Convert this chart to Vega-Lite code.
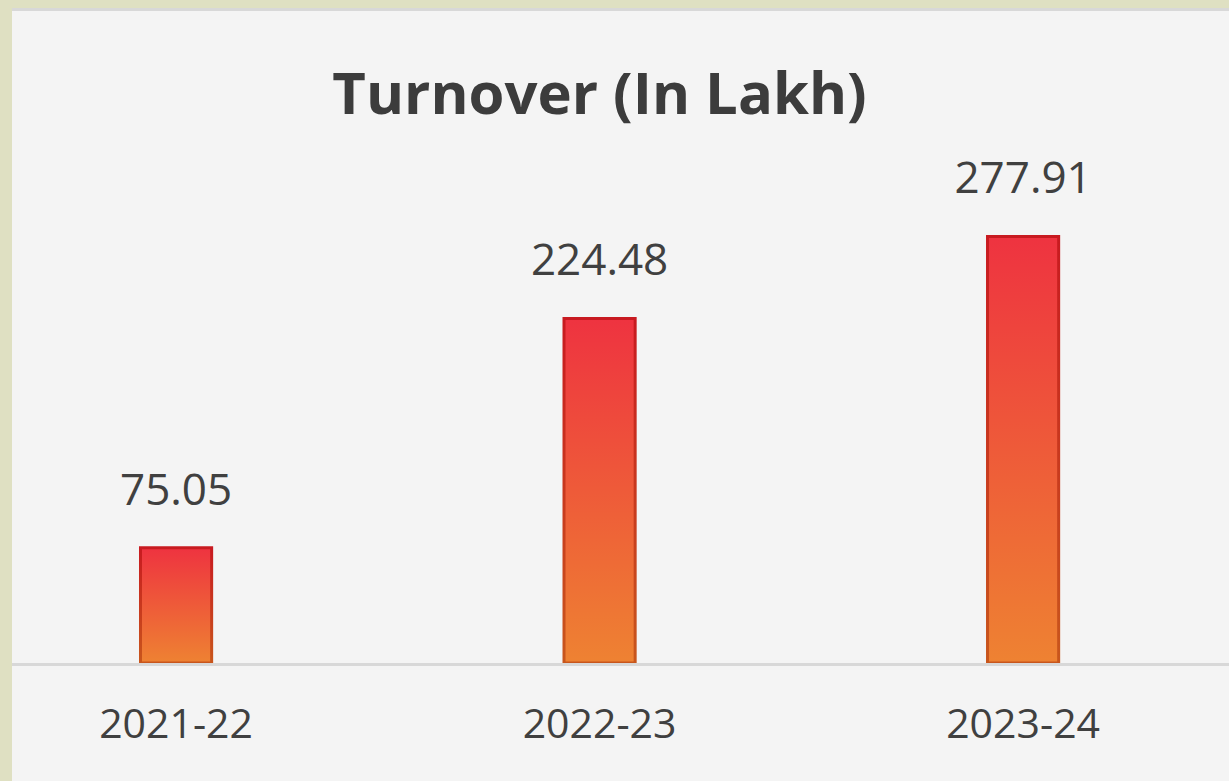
{
  "$schema": "https://vega.github.io/schema/vega-lite/v6.json",
  "width": 1217,
  "height": 773,
  "autosize": {"type": "none"},
  "padding": {"left": 12, "top": 8, "right": 0, "bottom": 0},
  "background": "#dfe0c2",
  "view": {"fill": "#f4f4f4", "stroke": null},
  "title": {
    "text": "Turnover (In Lakh)",
    "font": "Open Sans",
    "fontSize": 58,
    "fontWeight": "bold",
    "color": "#3c3c3c",
    "anchor": "middle",
    "baseline": "alphabetic",
    "offset": 0,
    "dx": -21,
    "dy": 164
  },
  "config": {
    "axisY": {"disable": true},
    "axisX": {
      "title": null,
      "domain": false,
      "ticks": false,
      "grid": false,
      "labelAngle": 0,
      "labelFont": "Open Sans",
      "labelFontSize": 41,
      "labelColor": "#404040",
      "labelBaseline": "alphabetic",
      "labelPadding": 0,
      "offset": -44
    }
  },
  "data": {
    "values": [
      {"year": "2021-22", "turnover": 75.05},
      {"year": "2022-23", "turnover": 224.48},
      {"year": "2023-24", "turnover": 277.91}
    ]
  },
  "layer": [
    {
      "mark": {"type": "rule", "stroke": "#d8d8d8", "strokeWidth": 3},
      "encoding": {"y": {"datum": 425.7, "type": "quantitative", "scale": {"domain": [-76.9, 426.7], "nice": false, "zero": false}}}
    },
    {
      "mark": {
        "type": "bar",
        "strokeWidth": 3,
        "fill": {
          "gradient": "linear", "x1": 0, "y1": 0, "x2": 0, "y2": 1,
          "stops": [{"offset": 0, "color": "#ee3340"}, {"offset": 1, "color": "#ee8232"}]
        },
        "stroke": {
          "gradient": "linear", "x1": 0, "y1": 0, "x2": 0, "y2": 1,
          "stops": [{"offset": 0, "color": "#c81a20"}, {"offset": 1, "color": "#c8561c"}]
        }
      },
      "encoding": {
        "x": {
          "field": "year",
          "type": "nominal",
          "sort": null,
          "title": null,
          "scale": {"paddingInner": 0.832, "paddingOuter": 0.3528, "align": 0.43}
        },
        "y": {
          "field": "turnover",
          "type": "quantitative",
          "title": null
        },
        "y2": {"datum": 0}
      }
    },
    {
      "mark": {"type": "rule", "stroke": "#d8d8d8", "strokeWidth": 3},
      "encoding": {"y": {"datum": -1, "type": "quantitative"}}
    },
    {
      "mark": {
        "type": "text",
        "font": "Open Sans",
        "fontSize": 44,
        "color": "#404040",
        "baseline": "alphabetic",
        "dy": -43
      },
      "encoding": {
        "x": {"field": "year", "type": "nominal", "sort": null, "title": null},
        "y": {"field": "turnover", "type": "quantitative", "title": null},
        "text": {"field": "turnover", "type": "quantitative", "format": ".2f"}
      }
    }
  ]
}
